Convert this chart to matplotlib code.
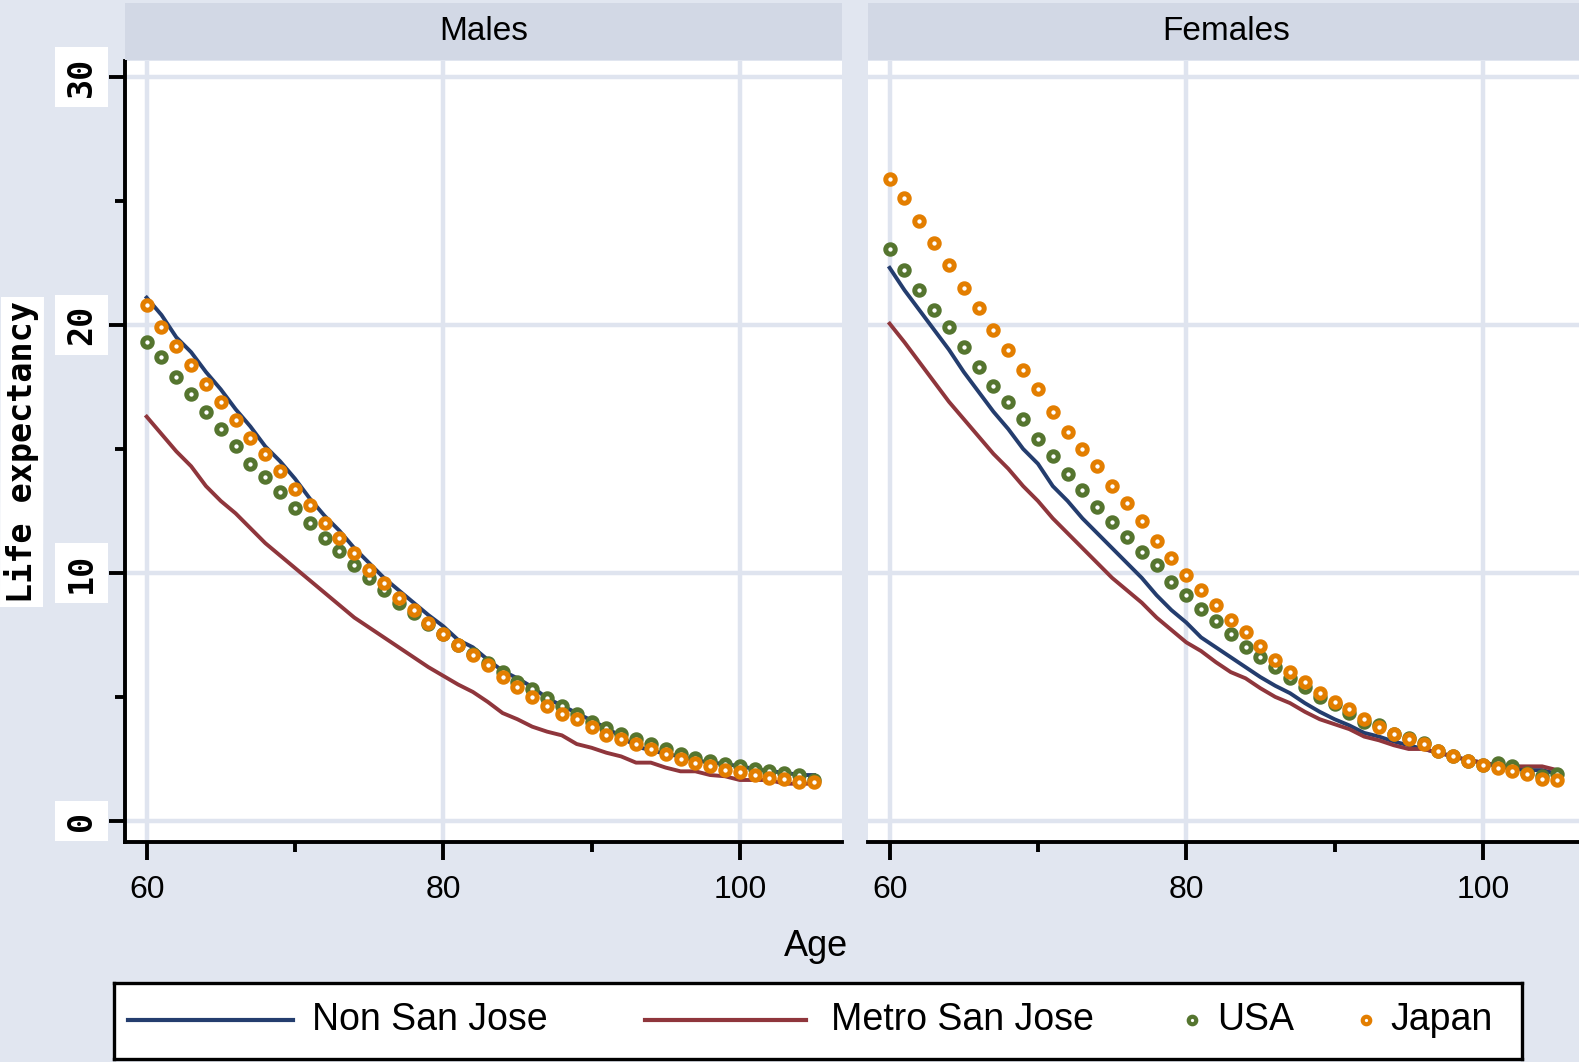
import matplotlib
matplotlib.use("Agg")
import matplotlib.pyplot as plt
from matplotlib.ticker import MultipleLocator

ages = list(range(60, 106))

male_non_sj = [21.1, 20.4, 19.5, 18.9, 18.1, 17.4, 16.6, 15.9, 15.1, 14.5,
               13.8, 13.0, 12.3, 11.7, 11.0, 10.4, 9.8, 9.3, 8.8, 8.3,
               7.85, 7.3, 7.0, 6.5, 6.05, 5.75, 5.4, 4.95, 4.65, 4.35,
               4.05, 3.75, 3.4, 3.0, 2.85, 2.7, 2.6, 2.45, 2.35, 2.3,
               2.2, 2.1, 2.0, 1.95, 1.85, 1.85]
male_metro_sj = [16.3, 15.6, 14.9, 14.3, 13.5, 12.9, 12.4, 11.8, 11.2, 10.7,
                 10.2, 9.7, 9.2, 8.7, 8.2, 7.8, 7.4, 7.0, 6.6, 6.2,
                 5.85, 5.5, 5.2, 4.8, 4.35, 4.1, 3.8, 3.6, 3.45, 3.1,
                 2.95, 2.75, 2.6, 2.35, 2.35, 2.15, 2.0, 2.0, 1.85, 1.8,
                 1.65, 1.65, 1.65, 1.5, 1.5, 1.5]
male_usa = [19.3, 18.7, 17.9, 17.2, 16.5, 15.8, 15.1, 14.4, 13.85, 13.25,
            12.6, 12.0, 11.4, 10.9, 10.3, 9.8, 9.3, 8.8, 8.4, 7.95,
            7.55, 7.1, 6.75, 6.35, 6.0, 5.6, 5.3, 4.95, 4.65, 4.3,
            4.0, 3.75, 3.5, 3.3, 3.1, 2.9, 2.7, 2.55, 2.4, 2.3,
            2.2, 2.1, 2.0, 1.95, 1.85, 1.65]
male_japan = [20.8, 19.9, 19.15, 18.4, 17.6, 16.9, 16.15, 15.45, 14.8, 14.1,
              13.4, 12.75, 12.0, 11.4, 10.8, 10.1, 9.6, 9.0, 8.5, 8.0,
              7.55, 7.1, 6.7, 6.3, 5.8, 5.4, 5.0, 4.65, 4.3, 4.1,
              3.8, 3.45, 3.3, 3.1, 2.9, 2.7, 2.5, 2.35, 2.2, 2.05,
              1.98, 1.86, 1.75, 1.7, 1.55, 1.55]

female_non_sj = [22.3, 21.4, 20.6, 19.8, 19.0, 18.1, 17.3, 16.5, 15.8, 15.0,
                 14.4, 13.5, 12.9, 12.2, 11.6, 11.0, 10.4, 9.8, 9.1, 8.5,
                 8.0, 7.4, 7.0, 6.6, 6.2, 5.8, 5.45, 5.15, 4.75, 4.4,
                 4.1, 3.85, 3.55, 3.4, 3.2, 3.05, 2.9, 2.75, 2.6, 2.45,
                 2.35, 2.2, 2.1, 2.05, 2.05, 1.9]
female_metro_sj = [20.05, 19.3, 18.5, 17.7, 16.9, 16.2, 15.5, 14.8, 14.2, 13.5,
                   12.9, 12.2, 11.6, 11.0, 10.4, 9.8, 9.3, 8.8, 8.2, 7.7,
                   7.2, 6.85, 6.4, 6.0, 5.75, 5.35, 5.0, 4.75, 4.4, 4.1,
                   3.9, 3.7, 3.4, 3.25, 3.05, 2.9, 2.9, 2.75, 2.6, 2.45,
                   2.35, 2.25, 2.2, 2.2, 2.2, 2.05]
female_usa = [23.05, 22.2, 21.4, 20.6, 19.9, 19.1, 18.3, 17.55, 16.9, 16.2,
              15.4, 14.7, 14.0, 13.35, 12.65, 12.05, 11.45, 10.85, 10.3, 9.65,
              9.1, 8.55, 8.05, 7.55, 7.0, 6.6, 6.2, 5.75, 5.4, 5.0,
              4.7, 4.35, 4.0, 3.85, 3.5, 3.35, 3.15, 2.8, 2.6, 2.4,
              2.25, 2.35, 2.2, 1.95, 1.8, 1.9]
female_japan = [25.9, 25.1, 24.2, 23.3, 22.4, 21.5, 20.7, 19.8, 19.0, 18.2,
                17.4, 16.5, 15.7, 15.0, 14.3, 13.5, 12.8, 12.1, 11.3, 10.6,
                9.9, 9.3, 8.7, 8.1, 7.6, 7.05, 6.5, 6.0, 5.6, 5.15,
                4.8, 4.5, 4.1, 3.8, 3.5, 3.3, 3.1, 2.8, 2.6, 2.4,
                2.25, 2.15, 2.0, 1.9, 1.7, 1.65]

panel_titles = ["Males", "Females"]
series_names = ["Non San Jose", "Metro San Jose", "USA", "Japan"]
x_ticks = [60, 80, 100]
y_ticks = [0, 10, 20, 30]

NAVY = "#243d6e"
MAROON = "#8f363c"
GREEN = "#55752f"
ORANGE = "#e37e00"
BG = "#e1e6f0"
STRIP = "#d2d8e5"
GRID = "#dfe4ef"

W, H = 1579, 1062


def px_box(x0, y0, x1, y1):
    # pixel rectangle (top-left origin) -> figure fraction
    return [x0 / W, 1 - y1 / H, (x1 - x0) / W, (y1 - y0) / H]


def draw_panel(ax, non_sj, metro_sj, usa, japan, show_y):
    ax.set_facecolor("white")
    ax.plot(ages, non_sj, color=NAVY, lw=2.8, zorder=3)
    ax.plot(ages, metro_sj, color=MAROON, lw=2.8, zorder=3)
    ax.plot(ages, usa, ls="none", marker="o", ms=6.8, mew=3.6,
            mec=GREEN, mfc="white", zorder=4)
    ax.plot(ages, japan, ls="none", marker="o", ms=6.8, mew=3.6,
            mec=ORANGE, mfc="white", zorder=5)

    ax.set_xlim(58.54, 106.89)
    ax.set_ylim(-0.85, 30.64)
    for x in x_ticks:
        ax.axvline(x, color=GRID, lw=3.2, zorder=1)
    for y in y_ticks:
        ax.axhline(y, color=GRID, lw=3.2, zorder=1)

    for side in ["top", "right"]:
        ax.spines[side].set_visible(False)
    ax.spines["bottom"].set_linewidth(2.8)
    ax.spines["left"].set_linewidth(2.8)

    ax.set_xticks(x_ticks)
    ax.set_xticklabels([str(v) for v in x_ticks])
    ax.xaxis.set_minor_locator(MultipleLocator(10))
    ax.tick_params(axis="x", which="major", length=13, width=2.8, pad=11,
                   labelsize=23)
    ax.tick_params(axis="x", which="minor", length=7, width=2.8)
    for lab in ax.get_xticklabels():
        lab.set_fontfamily("Liberation Sans")

    if show_y:
        ax.set_yticks(y_ticks)
        ax.set_yticklabels([str(v) for v in y_ticks], rotation=90,
                           va="center", family="DejaVu Sans Mono",
                           fontweight="bold")
        ax.yaxis.set_minor_locator(MultipleLocator(5))
        ax.tick_params(axis="y", which="major", length=11.5, width=2.8,
                       pad=8, labelsize=24)
        ax.tick_params(axis="y", which="minor", length=7, width=2.8)
        for lab in ax.get_yticklabels():
            lab.set_bbox(dict(facecolor="white", edgecolor="none", pad=7))
    else:
        ax.spines["left"].set_visible(False)
        ax.set_yticks([])
        ax.tick_params(axis="y", which="both", length=0)


def main():
    fig = plt.figure(figsize=(W / 100, H / 100), dpi=100)
    fig.patch.set_facecolor(BG)

    panels = [
        (125, male_non_sj, male_metro_sj, male_usa, male_japan, True),
        (868, female_non_sj, female_metro_sj, female_usa, female_japan, False),
    ]
    for (left, a, b, c, d, show_y), title in zip(panels, panel_titles):
        ax = fig.add_axes(px_box(left, 61, left + 717, 842))
        draw_panel(ax, a, b, c, d, show_y)

        strip = fig.add_axes(px_box(left, 3, left + 717, 60))
        strip.set_facecolor(STRIP)
        strip.set_xticks([])
        strip.set_yticks([])
        for s in strip.spines.values():
            s.set_visible(False)
        strip.text(0.5, 0.5, title, ha="center", va="center", fontsize=24,
                   family="Liberation Sans", transform=strip.transAxes)

    fig.text(816 / W, 1 - 956 / H, "Age", ha="center", va="baseline",
             fontsize=26, family="Liberation Sans")
    fig.text(22 / W, 1 - 452 / H, "Life expectancy", rotation=90,
             ha="center", va="center", fontsize=24, family="DejaVu Sans Mono",
             fontweight="bold",
             bbox=dict(facecolor="white", edgecolor="none", pad=3))

    # legend box along the bottom
    lax = fig.add_axes(px_box(114, 983, 1522, 1059))
    lax.set_xlim(114, 1522)
    lax.set_ylim(1059, 983)
    lax.set_facecolor("white")
    lax.set_xticks([])
    lax.set_yticks([])
    for s in lax.spines.values():
        s.set_linewidth(2.4)
        s.set_color("black")
    ly = 1020
    lax.plot([128, 293], [ly, ly], color=NAVY, lw=3.0)
    lax.plot([645, 806], [ly, ly], color=MAROON, lw=3.0)
    lax.plot([1192], [ly], marker="o", ms=5.4, mew=3.0, mec=GREEN, mfc="white")
    lax.plot([1366], [ly], marker="o", ms=5.4, mew=3.0, mec=ORANGE, mfc="white")
    for x, name in zip([312, 831, 1217, 1390], series_names):
        lax.text(x, ly, name, ha="left", va="center", fontsize=27,
                 family="Liberation Sans")

    fig.savefig("out.png", dpi=100, facecolor=BG)


if __name__ == '__main__':
    main()
